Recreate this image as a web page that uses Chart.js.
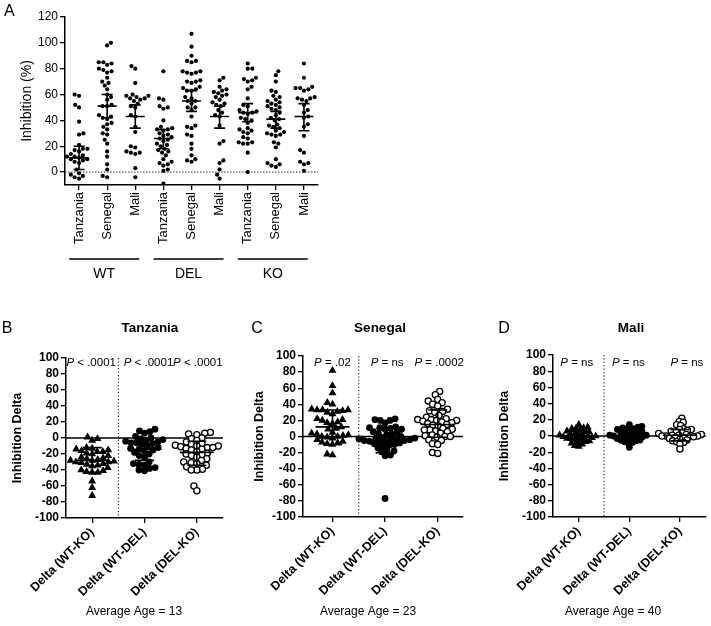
<!DOCTYPE html>
<html lang="en">
<head>
  <meta charset="UTF-8">
  <title>Inhibition by strain and country</title>
  <script src="https://cdn.jsdelivr.net/npm/chart.js"></script>
  <style>
    body { margin: 0; background: #fff; }
    #wrap { position: relative; width: 711px; height: 626px; }
    canvas { position: absolute; }
  </style>
</head>
<body>
<div id="wrap">
  <canvas id="chartA" width="360" height="300" style="left:0;top:0"></canvas>
  <canvas id="chartB" width="237" height="316" style="left:0;top:310px"></canvas>
  <canvas id="chartC" width="233" height="316" style="left:237px;top:310px"></canvas>
  <canvas id="chartD" width="241" height="316" style="left:470px;top:310px"></canvas>
</div>
<script>
  // ---- panel A: inhibition (%) per strain / country ----
  const catA = ['Tanzania', 'Senegal', 'Mali', 'Tanzania', 'Senegal', 'Mali', 'Tanzania', 'Senegal', 'Mali'];
  const strainA = ['WT', 'DEL', 'KO'];
  const wtTanzania = [60, 59, 52, 50, 39, 30, 29, 21, 18, 18, 17, 16, 14, 13, 12, 12, 11, 10, 10, 9, 8, 7, 2, -1, -2, -3, -4, -5];
  const wtSenegal = [100, 98, 85, 85, 84, 83, 80, 79, 78, 77, 73, 70, 69, 67, 64, 60, 58, 56, 52, 51, 51, 44, 43, 42, 41, 38, 37, 35, 33, 30, 29, 25, 22, 16, 12, 6, 2, -3, -4];
  const wtMali = [82, 80, 69, 60, 59, 59, 58, 57, 57, 56, 55, 53, 51, 50, 44, 43, 35, 31, 20, 19, 16, 15, 15, 14, 3, -4];
  const delTanzania = [78, 57, 56, 51, 50, 49, 40, 35, 34, 33, 33, 32, 30, 29, 28, 27, 26, 25, 24, 22, 21, 20, 18, 17, 16, 15, 13, 10, 8, 7, 6, 5, 2, 1, -9];
  const delSenegal = [107, 97, 90, 86, 86, 85, 78, 78, 77, 77, 76, 71, 70, 70, 69, 66, 65, 64, 63, 63, 58, 57, 55, 55, 53, 50, 50, 48, 43, 36, 35, 34, 29, 28, 22, 18, 13, 10, 9, 8];
  const delMali = [73, 71, 66, 64, 63, 62, 61, 60, 59, 58, 56, 54, 53, 52, 51, 48, 46, 44, 43, 36, 24, 22, 9, 7, 2, -2, -5];
  const koTanzania = [84, 80, 80, 73, 72, 71, 70, 66, 64, 57, 52, 51, 48, 47, 46, 46, 45, 42, 41, 40, 38, 34, 33, 32, 31, 30, 27, 26, 23, 23, 22, 22, 15, 0];
  const koSenegal = [78, 75, 70, 63, 62, 59, 58, 56, 55, 54, 53, 52, 51, 50, 49, 48, 46, 44, 42, 41, 40, 37, 36, 35, 34, 32, 31, 30, 29, 29, 28, 23, 22, 19, 10, 7, 6, 5, 4];
  const koMali = [84, 73, 66, 65, 65, 64, 63, 58, 57, 57, 56, 55, 52, 48, 46, 43, 42, 37, 35, 28, 17, 15, 8, 7, 6, 1];
  const midA = [11, 51, 43, 26, 55, 43, 46, 41, 43];
  const lowA = [2, 42, 34, 18, 47, 34, 39, 34, 32];
  const highA = [20, 60, 52, 33, 63, 51, 53, 47, 53];

  // ---- panels B-D: inhibition delta ----
  const deltaCats = ['Delta (WT-KO)', 'Delta (WT-DEL)', 'Delta (DEL-KO)'];
  const tzWtKo = [1, -1, -3, -12, -13, -14, -15, -16, -17, -17, -19, -20, -22, -24, -25, -26, -27, -28, -28, -29, -30, -30, -31, -32, -33, -34, -35, -37, -40, -41, -42, -43, -43, -54, -62, -72];
  const tzWtDel = [11, 9, 8, 6, 2, 0, -1, -2, -3, -4, -5, -6, -6, -7, -8, -10, -12, -13, -14, -15, -16, -18, -20, -22, -24, -30, -32, -33, -34, -37, -38, -40, -41];
  const tzDelKo = [7, 6, 5, 4, 0, -1, -3, -5, -7, -8, -9, -10, -10, -11, -12, -12, -13, -14, -15, -17, -19, -20, -21, -22, -24, -26, -28, -30, -31, -32, -34, -36, -39, -40, -40, -60, -66];
  const snWtKo = [82, 63, 54, 42, 40, 34, 33, 33, 33, 32, 31, 30, 28, 22, 21, 20, 18, 17, 16, 12, 10, 9, 5, 4, 3, 2, 1, 0, 0, -1, -2, -4, -6, -7, -8, -9, -10, -22, -23];
  const snWtDel = [22, 21, 20, 20, 17, 12, 11, 11, 10, 9, 9, 6, 5, 4, 3, 2, 0, -1, -2, -2, -3, -3, -4, -4, -5, -5, -6, -6, -7, -8, -9, -10, -11, -12, -14, -17, -18, -19, -23, -24, -77];
  const snDelKo = [56, 52, 46, 44, 42, 40, 38, 34, 32, 31, 30, 26, 24, 22, 21, 21, 20, 20, 19, 18, 17, 16, 15, 14, 13, 10, 9, 8, 8, 7, 6, 4, 2, 1, 0, 0, -1, -4, -5, -9, -10, -20, -21];
  const mlWtKo = [14, 11, 10, 9, 9, 8, 6, 5, 5, 4, 3, 2, 1, 1, 0, 0, -1, -1, -2, -2, -3, -3, -4, -5, -6, -7, -8, -9, -10, -12, -13];
  const mlWtDel = [14, 12, 11, 10, 9, 9, 8, 7, 6, 5, 5, 4, 3, 2, 1, 1, 0, 0, -1, -1, -2, -2, -3, -4, -5, -5, -6, -7, -8, -9, -14];
  const mlDelKo = [22, 18, 17, 14, 13, 9, 8, 8, 7, 6, 5, 4, 3, 2, 2, 1, 1, 0, 0, 0, -1, -1, -2, -2, -3, -4, -5, -6, -7, -8, -10, -16];
  const tzMid = [-28, -14, -18], tzLow = [-43, -28, -34], tzHigh = [-12, -1, -4];
  const snMid = [12, -4, 15], snLow = [-10, -20, -1], snHigh = [33, 10, 33];
  const mlMid = [0, 1, 1], mlLow = [-6, -5, -6], mlHigh = [6, 7, 8];
  const tzP = ['< .0001', '< .0001', '< .0001'];
  const snP = ['= .02', '= ns', '= .0002'];
  const mlP = ['= ns', '= ns', '= ns'];
  const ages = [13, 23, 40];

  Chart.defaults.font.family = "'Liberation Sans', Arial, sans-serif";
  Chart.defaults.color = '#000';
  const FONT = "'Liberation Sans', Arial, sans-serif";

  // deterministic beeswarm: x offsets so that markers do not overlap (much)
  function swarm(values, center, pxX, pxY, diam) {
    const order = values.map((v, i) => i).sort((a, b) => values[a] - values[b]);
    const placed = [];
    const xs = new Array(values.length);
    let flip = 1;
    order.forEach(i => {
      const y = values[i] * pxY;
      const near = placed.filter(p => Math.abs(p.y - y) < diam);
      const cands = [0];
      near.forEach(p => {
        const dx = Math.sqrt(diam * diam - (p.y - y) ** 2);
        cands.push(p.x + dx, p.x - dx);
      });
      cands.sort((a, b) => Math.abs(a) - Math.abs(b) || (b - a) * flip);
      const x = cands.find(c => near.every(p => (p.x - c) ** 2 + (p.y - y) ** 2 >= diam * diam - 0.01));
      flip = -flip;
      placed.push({ x, y });
      xs[i] = center + x / pxX;
    });
    return xs;
  }

  function axisOpts(L, xmin, xmax, ymin, ymax, xFont, xRot, yFont, yTicks) {
    return {
      x: {
        type: 'linear', min: xmin, max: xmax,
        afterBuildTicks: s => { s.ticks = L.cats.map((c, i) => ({ value: i + 1 })); },
        afterFit: s => { s.height = L.h - L.bottom; },
        ticks: { autoSkip: false, minRotation: xRot, maxRotation: xRot, font: xFont, padding: 2,
                 callback: v => L.cats[v - 1] },
        grid: { drawOnChartArea: false, drawTicks: true, tickLength: 5, color: '#000', lineWidth: 1.3 },
        border: { color: '#000', width: 1.5 }
      },
      y: {
        min: ymin, max: ymax,
        afterBuildTicks: s => { s.ticks = yTicks.map(v => ({ value: v })); },
        afterFit: s => { s.width = L.left; },
        ticks: { autoSkip: false, font: yFont, padding: 2 },
        grid: { drawOnChartArea: false, drawTicks: true, tickLength: 5, color: '#000', lineWidth: 1.3 },
        border: { color: '#000', width: 1.5 }
      }
    };
  }

  function drawBars(chart, mids, lows, highs, halfMid, halfCap) {
    const { ctx, scales: { x, y } } = chart;
    ctx.save();
    ctx.strokeStyle = '#000';
    ctx.lineWidth = 1.6;
    mids.forEach((m, i) => {
      const cx = x.getPixelForValue(i + 1);
      const ym = y.getPixelForValue(m), yl = y.getPixelForValue(lows[i]), yh = y.getPixelForValue(highs[i]);
      ctx.beginPath();
      ctx.moveTo(cx - halfMid, ym); ctx.lineTo(cx + halfMid, ym);
      ctx.moveTo(cx, yl); ctx.lineTo(cx, yh);
      ctx.moveTo(cx - halfCap, yl); ctx.lineTo(cx + halfCap, yl);
      ctx.moveTo(cx - halfCap, yh); ctx.lineTo(cx + halfCap, yh);
      ctx.stroke();
    });
    ctx.restore();
  }

  function vText(ctx, text, x, y, font) {
    ctx.save();
    ctx.translate(x, y);
    ctx.rotate(-Math.PI / 2);
    ctx.font = font;
    ctx.textAlign = 'center';
    ctx.textBaseline = 'middle';
    ctx.fillText(text, 0, 0);
    ctx.restore();
  }

  // ---------------- panel A ----------------
  const LA = { w: 360, h: 300, left: 65, top: 17, right: 318, bottom: 185, cats: catA };
  const groupsA = [wtTanzania, wtSenegal, wtMali, delTanzania, delSenegal, delMali, koTanzania, koSenegal, koMali];
  const pxXA = (LA.right - LA.left) / 9, pxYA = (LA.bottom - LA.top) / 130;

  new Chart(document.getElementById('chartA'), {
    type: 'scatter',
    data: {
      datasets: groupsA.map((vals, i) => {
        const xs = swarm(vals, i + 1, pxXA, pxYA, 4.6);
        return {
          data: vals.map((v, k) => ({ x: xs[k], y: v })),
          pointRadius: 2.1, pointBackgroundColor: '#000', pointBorderWidth: 0
        };
      })
    },
    options: {
      responsive: false, animation: false,
      layout: { padding: { left: 0, top: LA.top, right: LA.w - LA.right, bottom: 0 } },
      plugins: { legend: { display: false }, tooltip: { enabled: false } },
      scales: axisOpts(LA, 0.5, 9.5, -10, 120, { size: 13 }, 90, { size: 12 }, [0, 20, 40, 60, 80, 100, 120])
    },
    plugins: [{
      id: 'panelA',
      beforeDatasetsDraw(chart) {
        const { ctx, chartArea: a, scales: { y } } = chart;
        ctx.save();
        ctx.strokeStyle = '#333';
        ctx.lineWidth = 1;
        ctx.setLineDash([1.5, 1.5]);
        ctx.beginPath();
        ctx.moveTo(a.left, y.getPixelForValue(0));
        ctx.lineTo(a.right, y.getPixelForValue(0));
        ctx.stroke();
        ctx.restore();
      },
      afterDatasetsDraw(chart) { drawBars(chart, midA, lowA, highA, 9.5, 5.5); },
      afterDraw(chart) {
        const { ctx, chartArea: a, scales: { x } } = chart;
        ctx.save();
        ctx.fillStyle = '#000';
        ctx.font = '16px ' + FONT;
        ctx.textAlign = 'left';
        ctx.textBaseline = 'middle';
        ctx.fillText('A', 4, 12);
        vText(ctx, 'Inhibition (%)', 27, (a.top + a.bottom) / 2, '14px ' + FONT);
        ctx.strokeStyle = '#000';
        ctx.lineWidth = 1.5;
        ctx.font = '14px ' + FONT;
        ctx.textAlign = 'center';
        strainA.forEach((s, g) => {
          const cx = x.getPixelForValue(g * 3 + 2) - 3;
          ctx.beginPath();
          ctx.moveTo(cx - 35, 259);
          ctx.lineTo(cx + 35, 259);
          ctx.stroke();
          ctx.fillText(s, cx, 274);
        });
        ctx.restore();
      }
    }]
  });

  // ---------------- panels B-D ----------------
  const pointStyles = [
    { pointStyle: 'triangle', pointRadius: 4.6, pointBackgroundColor: '#000', pointBorderWidth: 0 },
    { pointStyle: 'circle', pointRadius: 3.4, pointBackgroundColor: '#000', pointBorderWidth: 0 },
    { pointStyle: 'circle', pointRadius: 3.1, pointBackgroundColor: '#fff', pointBorderColor: '#000', pointBorderWidth: 1.3 }
  ];

  function deltaPanel(id, L, letter, title, groups, mids, lows, highs, pTexts, age) {
    const pxX = (L.right - L.left) / (L.xmax - L.xmin), pxY = (L.bottom - L.top) / 200;
    new Chart(document.getElementById(id), {
      type: 'scatter',
      data: {
        datasets: groups.map((vals, i) => {
          const xs = swarm(vals, i + 1, pxX, pxY, L.diam);
          return Object.assign({ data: vals.map((v, k) => ({ x: xs[k], y: v })) }, pointStyles[i]);
        })
      },
      options: {
        responsive: false, animation: false,
        layout: { padding: { left: 0, top: L.top, right: L.w - L.right, bottom: 0 } },
        plugins: { legend: { display: false }, tooltip: { enabled: false } },
        scales: axisOpts(L, L.xmin, L.xmax, -100, 100, { size: 12.5, weight: 'bold' }, 45,
          { size: 12, weight: 'bold' }, [-100, -80, -60, -40, -20, 0, 20, 40, 60, 80, 100])
      },
      plugins: [{
        id: 'delta' + letter,
        beforeDatasetsDraw(chart) {
          const { ctx, chartArea: a, scales: { x, y } } = chart;
          ctx.save();
          ctx.strokeStyle = '#000';
          ctx.lineWidth = 1.5;
          ctx.beginPath();
          ctx.moveTo(a.left, y.getPixelForValue(0));
          ctx.lineTo(a.right, y.getPixelForValue(0));
          ctx.stroke();
          ctx.lineWidth = 1;
          ctx.setLineDash([1.2, 2.2]);
          ctx.beginPath();
          ctx.moveTo(x.getPixelForValue(1.5), a.top);
          ctx.lineTo(x.getPixelForValue(1.5), a.bottom);
          ctx.stroke();
          ctx.restore();
        },
        afterDatasetsDraw(chart) { drawBars(chart, mids, lows, highs, 17, 9.5); },
        afterDraw(chart) {
          const { ctx, chartArea: a, scales: { x } } = chart;
          ctx.save();
          ctx.fillStyle = '#000';
          ctx.textBaseline = 'middle';
          ctx.font = '16px ' + FONT;
          ctx.textAlign = 'center';
          ctx.fillText(letter, L.letterX, 19);
          ctx.font = 'bold 13.5px ' + FONT;
          ctx.fillText(title, L.titleX, 18);
          vText(ctx, 'Inhibition Delta', L.ytitleX, (a.top + a.bottom) / 2, 'bold 12.5px ' + FONT);
          ctx.font = '12px ' + FONT;
          ctx.fillText('Average Age = ' + age, L.ageX, 302);
          pTexts.forEach((t, i) => {
            const cx = x.getPixelForValue(i + 1) + L.pdx[i];
            ctx.font = 'italic 11.5px ' + FONT;
            const wp = ctx.measureText('P').width;
            ctx.font = '11.5px ' + FONT;
            const rest = ' ' + t;
            const wr = ctx.measureText(rest).width;
            const x0 = cx - (wp + wr) / 2;
            ctx.textAlign = 'left';
            ctx.font = 'italic 11.5px ' + FONT;
            ctx.fillText('P', x0, 53);
            ctx.font = '11.5px ' + FONT;
            ctx.fillText(rest, x0 + wp, 53);
            ctx.textAlign = 'center';
          });
          ctx.restore();
        }
      }]
    });
  }

  deltaPanel('chartB',
    { w: 237, h: 316, left: 66, top: 48, right: 223, bottom: 208, xmin: 0.5, xmax: 3.5, cats: deltaCats,
      letterX: 7, titleX: 150, ytitleX: 18, ageX: 134, pdx: [-1, 4, 1], diam: 5.6 },
    'B', 'Tanzania', [tzWtKo, tzWtDel, tzDelKo], tzMid, tzLow, tzHigh, tzP, ages[0]);
  deltaPanel('chartC',
    { w: 233, h: 316, left: 66, top: 46, right: 226, bottom: 207, xmin: 0.44, xmax: 3.48, cats: deltaCats,
      letterX: 20, titleX: 143, ytitleX: 23, ageX: 131, pdx: [0, 2, 1.5], diam: 5.4 },
    'C', 'Senegal', [snWtKo, snWtDel, snDelKo], snMid, snLow, snHigh, snP, ages[1]);
  deltaPanel('chartD',
    { w: 241, h: 316, left: 83, top: 45, right: 241, bottom: 207, xmin: 0.49, xmax: 3.51, cats: deltaCats,
      letterX: 34, titleX: 161, ytitleX: 35, ageX: 143, pdx: [-2, -1, 7], diam: 4.2 },
    'D', 'Mali', [mlWtKo, mlWtDel, mlDelKo], mlMid, mlLow, mlHigh, mlP, ages[2]);
</script>
</body>
</html>
